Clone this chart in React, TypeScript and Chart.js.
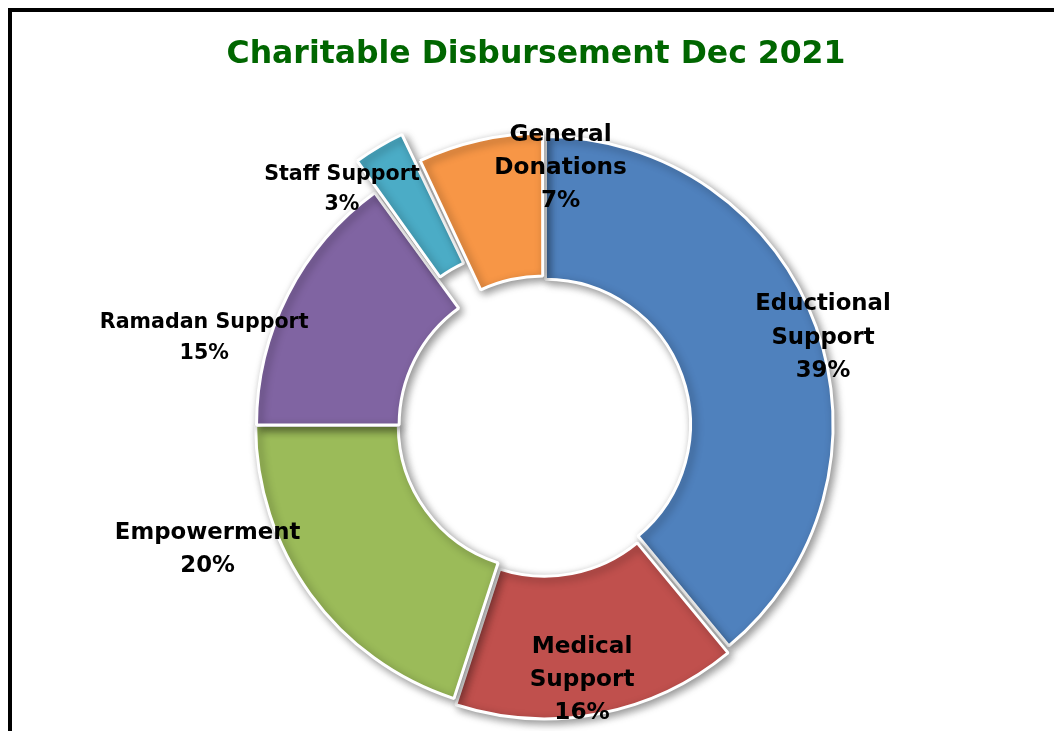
import React, { useEffect, useRef } from "react";
import { Chart, registerables } from "chart.js";

Chart.register(...registerables);

const titleText = "Charitable Disbursement Dec 2021";
const categories = [
  "Eductional Support",
  "Medical Support",
  "Empowerment",
  "Ramadan Support",
  "Staff Support",
  "General Donations",
];
const values = [39, 16, 20, 15, 3, 7];
const colors = ["#4F81BD", "#C0504D", "#9BBB59", "#8064A2", "#4BACC6", "#F79646"];
// explosion per slice (Chart.js offset units)
const explode = [8, 24, 4, 0, 80, 12];
// label layout: wrap name onto two lines?
const wrapName = [true, true, false, false, false, true];
// label placement: angle shift (deg, clockwise) from slice middle, radius factor
const labelAngleShift = [2.5, 2.2, 15.7, -12.7, -10, 16.4];
const labelRadius = [1.02, 0.899, 1.248, 1.22, 1.079, 0.899];
const labelFontSize = [22.8, 23.2, 22.8, 20.6, 20.6, 23.2];
const labelLineHeight = [33.5, 33, 33, 31, 30, 33];

const FONT = "'DejaVu Sans', sans-serif";

const shadowPlugin = {
  id: "shadowPlugin",
  beforeDatasetsDraw(chart: any) {
    const c = chart.ctx;
    c.save();
    c.shadowColor = "rgba(0,0,0,0.42)";
    c.shadowBlur = 9;
    c.shadowOffsetX = 3;
    c.shadowOffsetY = 3;
  },
  afterDatasetsDraw(chart: any) {
    chart.ctx.restore();
  },
};

const labelPlugin = {
  id: "labelPlugin",
  afterDraw(chart: any) {
    const c = chart.ctx;
    const meta = chart.getDatasetMeta(0);
    const total = values.reduce((a, b) => a + b, 0);
    c.save();
    // title
    c.fillStyle = "#006600";
    c.textAlign = "center";
    c.textBaseline = "middle";
    c.font = `bold 31.5px ${FONT}`;
    c.fillText(titleText, 528, 47);
    // slice labels
    c.fillStyle = "#000";
    meta.data.forEach((arc: any, i: number) => {
      const p = arc.getProps(["x", "y", "startAngle", "endAngle", "outerRadius"], true);
      const a = (p.startAngle + p.endAngle) / 2 + (labelAngleShift[i] * Math.PI) / 180;
      const r = p.outerRadius * labelRadius[i];
      const cx = p.x + Math.cos(a) * r;
      const cy = p.y + Math.sin(a) * r;
      const name = categories[i];
      const lines = wrapName[i] ? name.split(" ") : [name];
      lines.push(Math.round((values[i] / total) * 100) + "%");
      c.font = `bold ${labelFontSize[i]}px ${FONT}`;
      const lh = labelLineHeight[i];
      const startY = cy - ((lines.length - 1) * lh) / 2;
      lines.forEach((t, k) => c.fillText(t, cx, startY + k * lh));
    });
    c.restore();
  },
};

export default function App() {
  const ref = useRef<HTMLCanvasElement>(null);
  useEffect(() => {
    const chart = new Chart(ref.current as HTMLCanvasElement, {
      type: "doughnut",
      data: {
        labels: categories,
        datasets: [
          {
            data: values,
            backgroundColor: colors,
            borderColor: "#ffffff",
            borderWidth: 3,
            offset: explode,
            hoverOffset: 0,
          },
        ],
      },
      options: {
        responsive: false,
        maintainAspectRatio: false,
        animation: false,
        radius: 287,
        cutout: "50.3%",
        layout: { padding: { left: 25, right: 0, top: 111, bottom: 0 } },
        plugins: {
          legend: { display: false },
          tooltip: { enabled: false },
          title: { display: false },
        },
      },
      plugins: [shadowPlugin, labelPlugin],
    } as any);
    return () => chart.destroy();
  }, []);
  return (
    <div
      style={{
        position: "fixed",
        left: 8,
        top: 8,
        width: 1046,
        height: 723,
        overflow: "hidden",
        background: "#fff",
      }}
    >
      <div
        style={{
          position: "absolute",
          left: 0,
          top: 0,
          width: 1100,
          height: 800,
          border: "4px solid #000",
          boxSizing: "border-box",
        }}
      />
      <canvas
        ref={ref}
        width={1046}
        height={723}
        style={{ position: "absolute", left: 0, top: 0 }}
      />
    </div>
  );
}
